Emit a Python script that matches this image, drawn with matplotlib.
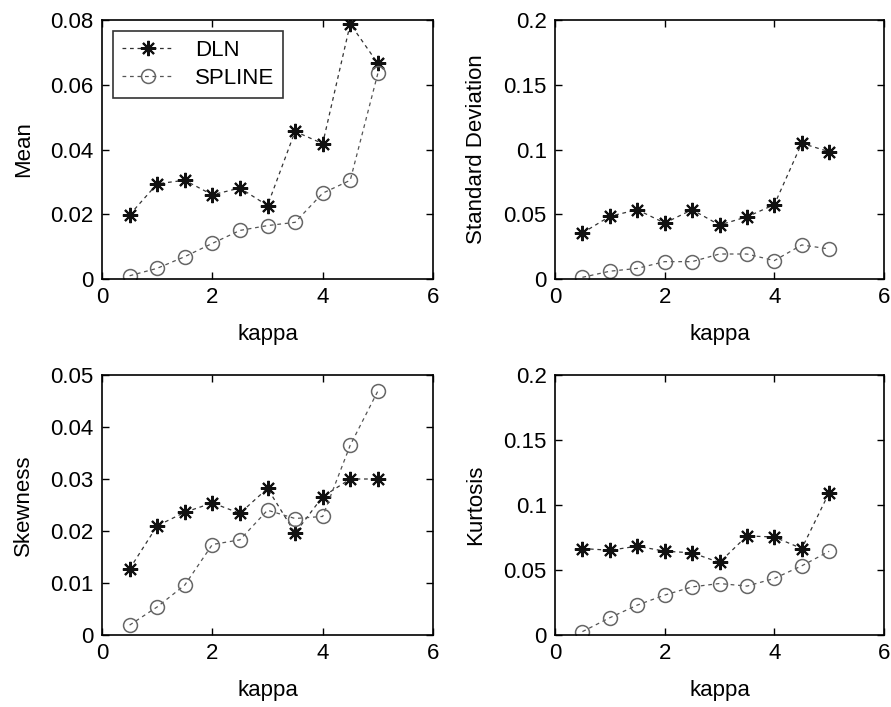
import matplotlib
matplotlib.use("Agg")
import matplotlib.pyplot as plt

plt.rcParams['font.family'] = ['Liberation Sans', 'DejaVu Sans']

kappa = [0.5, 1.0, 1.5, 2.0, 2.5, 3.0, 3.5, 4.0, 4.5, 5.0]

mean_dln = [0.0198, 0.0294, 0.0305, 0.0260, 0.0281, 0.0227, 0.0456, 0.0418, 0.0788, 0.0666]
mean_spline = [0.0010, 0.0033, 0.0069, 0.0110, 0.0150, 0.0165, 0.0175, 0.0265, 0.0305, 0.0635]

std_dln = [0.0355, 0.0484, 0.0535, 0.0432, 0.0535, 0.0417, 0.0480, 0.0574, 0.1048, 0.0983]
std_spline = [0.0013, 0.0060, 0.0082, 0.0134, 0.0134, 0.0193, 0.0193, 0.0142, 0.0263, 0.0232]

skew_dln = [0.0127, 0.0210, 0.0236, 0.0254, 0.0234, 0.0282, 0.0196, 0.0266, 0.0300, 0.0300]
skew_spline = [0.0019, 0.0054, 0.0096, 0.0174, 0.0183, 0.0240, 0.0224, 0.0228, 0.0365, 0.0469]

kurt_dln = [0.0665, 0.0652, 0.0683, 0.0645, 0.0632, 0.0558, 0.0762, 0.0754, 0.0665, 0.1095]
kurt_spline = [0.0026, 0.0133, 0.0230, 0.0307, 0.0370, 0.0396, 0.0376, 0.0435, 0.0532, 0.0644]

panels = [
    ("Mean", mean_dln, mean_spline, 0.08, [0, 0.02, 0.04, 0.06, 0.08], ["0", "0.02", "0.04", "0.06", "0.08"]),
    ("Standard Deviation", std_dln, std_spline, 0.2, [0, 0.05, 0.1, 0.15, 0.2], ["0", "0.05", "0.1", "0.15", "0.2"]),
    ("Skewness", skew_dln, skew_spline, 0.05, [0, 0.01, 0.02, 0.03, 0.04, 0.05], ["0", "0.01", "0.02", "0.03", "0.04", "0.05"]),
    ("Kurtosis", kurt_dln, kurt_spline, 0.2, [0, 0.05, 0.1, 0.15, 0.2], ["0", "0.05", "0.1", "0.15", "0.2"]),
]

W, H = 891, 707
fig = plt.figure(figsize=(W / 100, H / 100), dpi=100)

# axes boxes in pixels: left, right, top, bottom
boxes = [(102, 433, 20, 279), (555, 884, 20, 279), (102, 433, 375, 635), (555, 884, 375, 635)]

FS = 16
star = (8, 2, 0)
for i, (ylab, dln, spl, ymax, yt, ytl) in enumerate(panels):
    l, r, t, b = boxes[i]
    ax = fig.add_axes([l / W, 1 - b / H, (r - l) / W, (b - t) / H])
    ax.plot(kappa, dln, linestyle=(0, (3, 3)), color='#333333', linewidth=0.9,
            marker=star, markersize=11, markeredgewidth=1.5, markeredgecolor='#111111',
            label='DLN')
    ax.plot(kappa, spl, linestyle=(0, (3, 3)), color='#555555', linewidth=0.9,
            marker='o', markersize=10, markerfacecolor='none', markeredgewidth=1.1,
            markeredgecolor='#666666', label='SPLINE')
    ax.set_xlim(0, 6)
    ax.set_ylim(0, ymax)
    ax.set_xticks([0, 2, 4, 6])
    ax.set_xticklabels(["0", "2", "4", "6"])
    ax.set_yticks(yt)
    ax.set_yticklabels(ytl)
    ax.tick_params(direction='in', top=True, right=True, length=5, width=1,
                   labelsize=FS, pad=6)
    for s in ax.spines.values():
        s.set_linewidth(1.2)
    ax.set_xlabel("kappa", fontsize=FS, labelpad=11)
    ax.set_ylabel(ylab, fontsize=FS, labelpad=12)
    if i == 0:
        leg = ax.legend(loc='upper left', fontsize=FS, frameon=True, fancybox=False,
                        edgecolor='black', handlelength=2.3, borderaxespad=0.5,
                        handletextpad=1.0, borderpad=0.4, labelspacing=0.3)
        leg.get_frame().set_linewidth(1.2)

fig.savefig("out.png", dpi=100)
